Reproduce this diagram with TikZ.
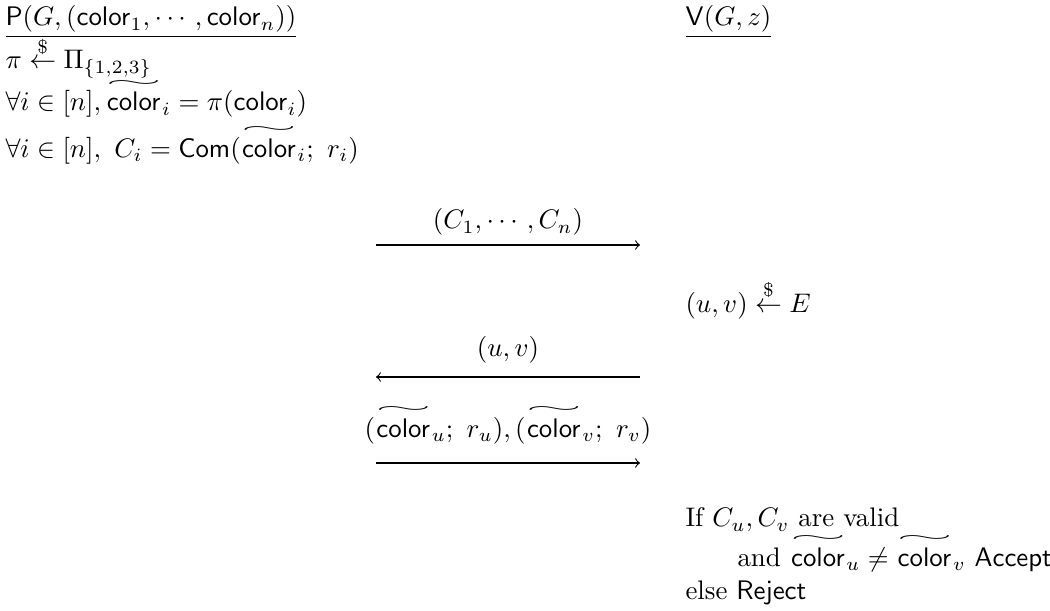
\documentclass[tikz,border=0pt]{standalone}
\usepackage{amsmath,amssymb,graphicx}
\newsavebox\wtbox
\newcommand{\wt}[1]{{\sbox\wtbox{$#1$}\overset{\resizebox{1.05\wd\wtbox}{0.6\height}{$\sim$}}{\usebox\wtbox}}}
\begin{document}
\begin{tikzpicture}[x=0.3724pt,y=-0.3724pt,
  txt/.style={inner sep=0pt, anchor=base west},
  msg/.style={inner sep=0pt, anchor=base},
  arr/.style={line width=0.4pt}]
\useasboundingbox (0,0) rectangle (1050,611);
% headers
\node[txt] (P) at (5,26) {$\underline{\mathsf{P}(G,(\mathsf{color}_1,\cdots,\mathsf{color}_n))}$};
\node[txt] (V) at (685,26) {$\underline{\mathsf{V}(G,z)}$};
% prover
\node[txt] (p1) at (5,69) {$\pi \stackrel{\$}{\leftarrow} \Pi_{\{1,2,3\}}$};
\node[txt] (p2) at (5,111) {$\forall i\in[n],\wt{\mathsf{color}}_i=\pi(\mathsf{color}_i)$};
\node[txt] (p3) at (5,157) {$\forall i\in[n],\ C_i=\mathsf{Com}(\wt{\mathsf{color}}_i;\ r_i)$};
% messages
\coordinate (a1s) at (376,245); \coordinate (a1e) at (640,245);
\node[msg] (m1) at (508,229) {$(C_1,\cdots,C_n)$};
\draw[arr,->] (a1s) -- (a1e);
\node[txt] (v1) at (685,312) {$(u,v)\stackrel{\$}{\leftarrow}E$};
\coordinate (a2s) at (640,377); \coordinate (a2e) at (376,377);
\node[msg] (m2) at (508,356) {$(u,v)$};
\draw[arr,->] (a2s) -- (a2e);
\coordinate (a3s) at (376,463); \coordinate (a3e) at (640,463);
\node[msg] (m3) at (508,437) {$(\wt{\mathsf{color}}_u;\ r_u),(\wt{\mathsf{color}}_v;\ r_v)$};
\draw[arr,->] (a3s) -- (a3e);
% verifier decision
\node[txt] (v2) at (685,527) {If $C_u,C_v$ are valid};
\node[txt] (v3) at (737,566) {and $\wt{\mathsf{color}}_u\neq\wt{\mathsf{color}}_v$\ $\mathsf{Accept}$};
\node[txt] (v4) at (685,599) {else $\mathsf{Reject}$};
\end{tikzpicture}
\end{document}
